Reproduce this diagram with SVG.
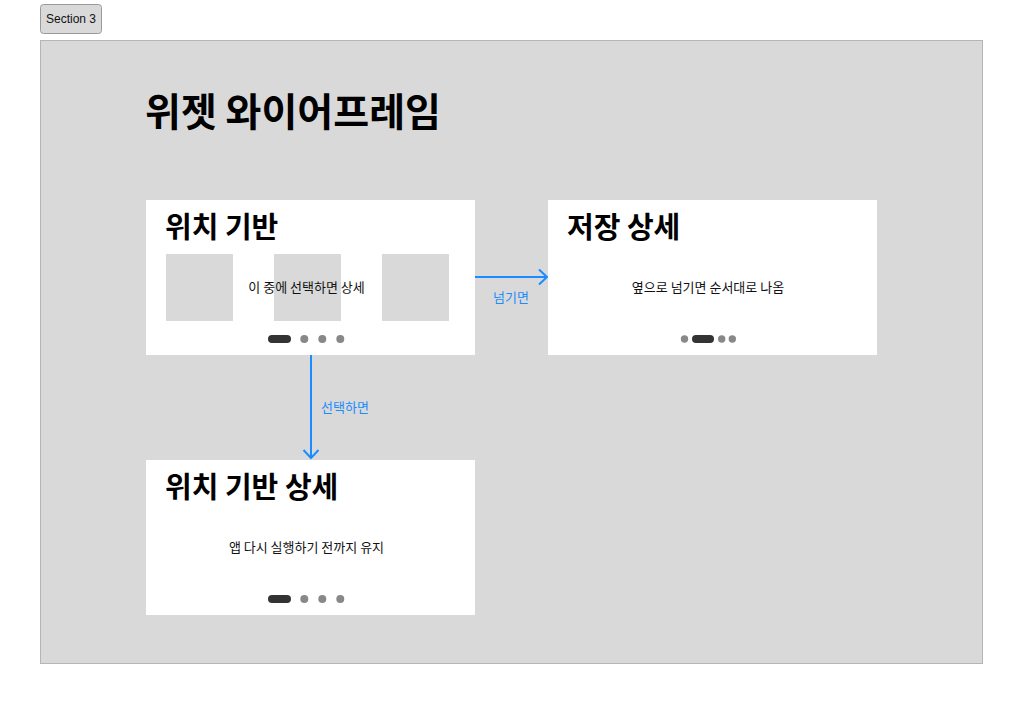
<svg xmlns="http://www.w3.org/2000/svg" width="1023" height="705" viewBox="0 0 1023 705">
<style>
text{font-family:"Noto Sans CJK KR","Noto Sans",sans-serif;}
.card{fill:#fff;}
.h{font-size:29px;font-weight:700;fill:#000;}
.b{font-size:13px;fill:#111;text-anchor:middle;}
.ph{fill:#d9d9d9;}
.pill{fill:#333;}
.dot{fill:#888;}
.conn{stroke:#1a8cff;stroke-width:2;fill:none;}
.lbl{font-size:13px;fill:#1a8cff;}
</style>
<rect width="1023" height="705" fill="#fff"/>
<g id="section-label">
<rect x="40.5" y="4.5" width="61" height="29" rx="3" fill="#d9d9d9" stroke="#9a9a9a"/>
<text x="71" y="22.5" font-size="12" text-anchor="middle" style="font-family:'Liberation Sans',Arial,sans-serif" fill="#111">Section 3</text>
</g>
<g id="section">
<rect x="40.5" y="40.5" width="942" height="623" fill="#d9d9d9" stroke="#b5b5b5"/>
<text x="145" y="126" font-size="39" font-weight="700" fill="#000">위젯 와이어프레임</text>
</g>
<g id="connectors">
<line class="conn" x1="475" y1="277" x2="547" y2="277"/>
<polyline class="conn" points="539,269.5 547,277 539,284.5"/>
<text class="lbl" x="511" y="302" text-anchor="middle">넘기면</text>
<line class="conn" x1="311" y1="355" x2="311" y2="458"/>
<polyline class="conn" points="303.5,450 311,458 318.5,450"/>
<text class="lbl" x="321" y="412">선택하면</text>
</g>
<g id="node-location">
<rect class="card" x="146" y="200" width="329" height="155"/>
<text class="h" x="165" y="238">위치 기반</text>
<rect class="ph" x="166" y="254" width="67" height="67"/>
<rect class="ph" x="274" y="254" width="67" height="67"/>
<rect class="ph" x="382" y="254" width="67" height="67"/>
<text class="b" x="306.5" y="292">이 중에 선택하면 상세</text>
<rect class="pill" x="268" y="335" width="23" height="8" rx="4"/>
<circle class="dot" cx="304.3" cy="339" r="4"/>
<circle class="dot" cx="322.3" cy="339" r="4"/>
<circle class="dot" cx="340.3" cy="339" r="4"/>
</g>
<g id="node-saved">
<rect class="card" x="548" y="200" width="329" height="155"/>
<text class="h" x="567" y="238">저장 상세</text>
<text class="b" x="708" y="292">옆으로 넘기면 순서대로 나옴</text>
<circle class="dot" cx="684.5" cy="339" r="3.7"/>
<rect class="pill" x="692" y="335" width="22" height="8" rx="4"/>
<circle class="dot" cx="721.7" cy="339" r="3.7"/>
<circle class="dot" cx="732.3" cy="339" r="3.7"/>
</g>
<g id="node-location-detail">
<rect class="card" x="146" y="460" width="329" height="155"/>
<text class="h" x="165" y="498">위치 기반 상세</text>
<text class="b" x="306.5" y="552">앱 다시 실행하기 전까지 유지</text>
<rect class="pill" x="268" y="595" width="23" height="8" rx="4"/>
<circle class="dot" cx="304.3" cy="599" r="4"/>
<circle class="dot" cx="322.3" cy="599" r="4"/>
<circle class="dot" cx="340.3" cy="599" r="4"/>
</g>
</svg>
